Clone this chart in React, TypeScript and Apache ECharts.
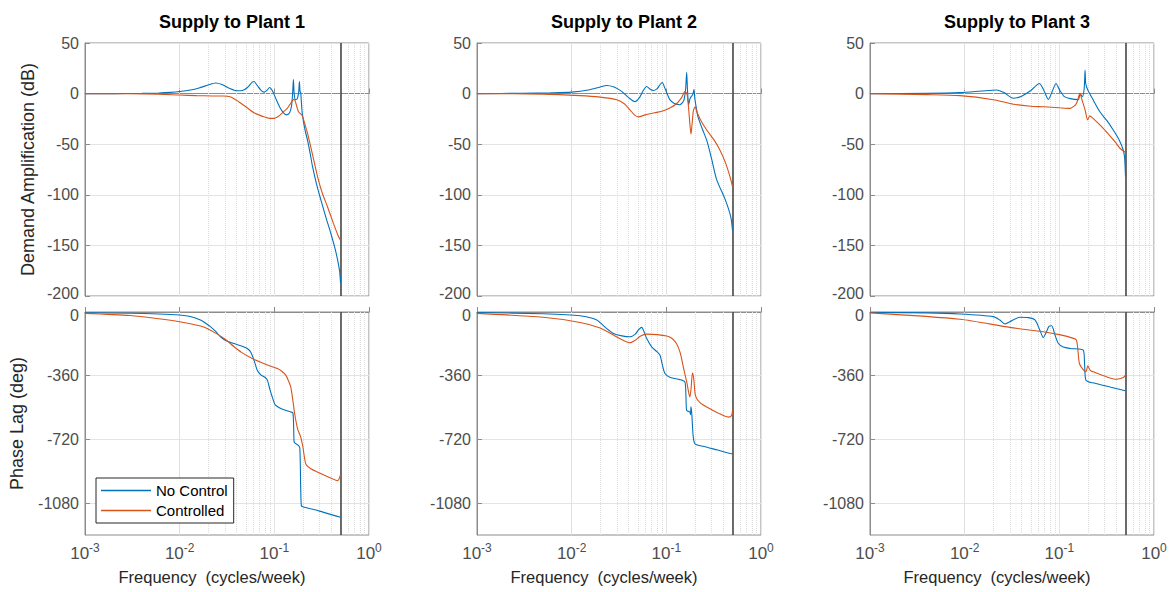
import React, { useEffect, useRef } from "react";
import * as echarts from "echarts";

// ---------- Data (frequency in cycles/week, magnitude in dB, phase in deg) ----------
// Plant 1 magnitude
const P1_MAG_NC_F = [0.001, 0.002, 0.004, 0.006, 0.008, 0.01, 0.013, 0.016, 0.02, 0.024, 0.028, 0.034, 0.04, 0.046, 0.052, 0.058, 0.061, 0.066, 0.072, 0.078, 0.084, 0.089, 0.095, 0.105, 0.115, 0.125, 0.135, 0.145, 0.152, 0.156, 0.159, 0.162, 0.167, 0.175, 0.181, 0.184, 0.187, 0.19, 0.193, 0.198, 0.21, 0.224, 0.24, 0.253, 0.28, 0.31, 0.35, 0.395, 0.44, 0.47, 0.49, 0.5];
const P1_MAG_NC = [0, 0, 0.2, 0.6, 1.2, 2, 3.5, 5.5, 8.5, 10.5, 9, 5, 2.8, 3, 6, 11, 12, 8, 3.5, 1.5, 3.5, 6, 3, -6, -14, -19, -21, -19, -12, 0, 14, 0, -6, -5, 2, 12, 2, 1, -8, -21, -35, -46, -60, -72, -90, -105, -122, -138, -154, -166, -176, -187];
const P1_MAG_C_F = [0.001, 0.003, 0.006, 0.01, 0.015, 0.022, 0.028, 0.032, 0.036, 0.042, 0.05, 0.061, 0.075, 0.09, 0.1, 0.112, 0.125, 0.137, 0.148, 0.157, 0.162, 0.167, 0.173, 0.18, 0.19, 0.198, 0.21, 0.224, 0.25, 0.286, 0.32, 0.365, 0.42, 0.47, 0.5];
const P1_MAG_C = [0, -0.1, -0.5, -1.4, -2, -2.3, -2.4, -2.6, -4, -8, -13, -19, -22.5, -24.5, -24.5, -22, -18, -14.6, -10, -6.5, -5.7, -8, -13, -18, -20, -22, -30, -39, -58, -82, -98, -112, -128, -140, -145];
// Plant 1 phase
const P1_PH_NC_F = [0.001, 0.003, 0.006, 0.01, 0.013, 0.0166, 0.019, 0.0211, 0.024, 0.027, 0.031, 0.0373, 0.045, 0.0518, 0.056, 0.061, 0.066, 0.072, 0.08, 0.0844, 0.09, 0.095, 0.1, 0.103, 0.12, 0.149, 0.157, 0.16, 0.162, 0.17, 0.18, 0.186, 0.19, 0.193, 0.2, 0.3, 0.4, 0.5];
const P1_PH_NC = [-4, -7, -11, -17, -25, -45, -65, -83, -110, -140, -163, -178, -192, -206, -225, -272, -329, -355, -370, -385, -440, -480, -515, -527, -548, -565, -570, -650, -735, -745, -754, -770, -1000, -1094, -1100, -1125, -1145, -1160];
const P1_PH_C_F = [0.001, 0.003, 0.006, 0.01, 0.0166, 0.0195, 0.025, 0.0305, 0.0373, 0.045, 0.0585, 0.075, 0.09, 0.108, 0.12, 0.132, 0.14, 0.149, 0.157, 0.164, 0.176, 0.19, 0.2, 0.215, 0.243, 0.3, 0.4, 0.466, 0.5];
const P1_PH_C = [-8, -20, -38, -55, -79, -93, -125, -155, -195, -228, -263, -288, -305, -319, -335, -357, -385, -423, -500, -575, -660, -707, -760, -858, -886, -910, -940, -953, -920];

// Plant 2 magnitude
const P2_MAG_NC_F = [0.001, 0.003, 0.006, 0.01, 0.015, 0.02, 0.0234, 0.028, 0.034, 0.04, 0.0466, 0.052, 0.057, 0.062, 0.067, 0.0728, 0.08, 0.086, 0.0906, 0.096, 0.103, 0.109, 0.12, 0.139, 0.148, 0.154, 0.16, 0.164, 0.167, 0.172, 0.178, 0.183, 0.19, 0.196, 0.2, 0.208, 0.216, 0.24, 0.267, 0.3, 0.34, 0.42, 0.48, 0.5];
const P2_MAG_NC = [0, 0.3, 0.8, 1.5, 3.5, 6.5, 8, 6.5, 2, -4, -8, -4, 3, 7, 4.5, 3, 5, 9, 11, 6, -1, -6, -9.5, -11, -9, -6, 5, 21, 5, -11, -5, -3, -1, 4, -5, -15, -23, -35, -46, -64, -85, -105, -122, -135];
const P2_MAG_C_F = [0.001, 0.005, 0.0123, 0.02, 0.0299, 0.036, 0.0413, 0.046, 0.0506, 0.06, 0.075, 0.093, 0.11, 0.128, 0.145, 0.157, 0.165, 0.172, 0.178, 0.182, 0.187, 0.193, 0.201, 0.21, 0.23, 0.267, 0.32, 0.369, 0.42, 0.47, 0.5];
const P2_MAG_C = [0, -0.5, -2, -3.5, -6, -10, -16, -21, -23, -21, -19, -17, -14, -10, -4, 2, 0, -15, -32, -40, -30, -17, -13, -18, -26, -36, -46, -56, -68, -82, -92];
// Plant 2 phase
const P2_PH_NC_F = [0.001, 0.005, 0.0123, 0.0184, 0.023, 0.0276, 0.034, 0.0413, 0.047, 0.051, 0.055, 0.058, 0.0619, 0.07, 0.08, 0.0858, 0.09, 0.0968, 0.11, 0.139, 0.157, 0.161, 0.164, 0.177, 0.18, 0.182, 0.186, 0.192, 0.201, 0.25, 0.35, 0.49, 0.5];
const P2_PH_NC = [-3, -10, -21, -45, -90, -121, -135, -140, -125, -100, -87, -110, -149, -197, -225, -244, -290, -348, -370, -382, -395, -470, -556, -565, -580, -535, -580, -700, -745, -760, -780, -801, -800];
const P2_PH_C_F = [0.001, 0.005, 0.0123, 0.02, 0.0276, 0.035, 0.0413, 0.047, 0.053, 0.0619, 0.08, 0.101, 0.115, 0.128, 0.14, 0.151, 0.165, 0.177, 0.182, 0.189, 0.195, 0.201, 0.209, 0.23, 0.267, 0.35, 0.452, 0.49, 0.5];
const P2_PH_C = [-8, -30, -59, -90, -130, -160, -174, -160, -137, -125, -128, -136, -150, -178, -230, -310, -400, -480, -440, -344, -380, -460, -489, -515, -537, -570, -594, -585, -556];

// Plant 3 magnitude
const P3_MAG_NC_F = [0.001, 0.004, 0.0089, 0.015, 0.0218, 0.026, 0.0327, 0.04, 0.05, 0.0615, 0.068, 0.0766, 0.084, 0.0923, 0.1, 0.113, 0.13, 0.159, 0.165, 0.175, 0.183, 0.187, 0.19, 0.2, 0.23, 0.268, 0.32, 0.371, 0.43, 0.474, 0.49, 0.5];
const P3_MAG_NC = [0, 0.3, 1, 2.5, 3.6, 1, -4.6, -2.5, 3, 10, 4, -5.7, 2, 10, 4, -3, -5, -6, 0, -3, 5, 23, 10, 3.6, -7, -18, -27, -36, -46, -56, -64, -82];
const P3_MAG_C_F = [0.001, 0.004, 0.0089, 0.0201, 0.0327, 0.05, 0.0678, 0.1, 0.13, 0.145, 0.152, 0.16, 0.165, 0.172, 0.187, 0.199, 0.21, 0.23, 0.268, 0.33, 0.39, 0.437, 0.5];
const P3_MAG_C = [0, -1, -2, -6, -10.5, -12.5, -13, -14, -14.6, -12, -9.6, -3, 0.3, -5, -16, -26, -22, -25, -31, -40, -48, -54, -58];
// Plant 3 phase
const P3_PH_NC_F = [0.001, 0.004, 0.0089, 0.0201, 0.0235, 0.0267, 0.03, 0.0384, 0.047, 0.0553, 0.062, 0.0678, 0.072, 0.078, 0.083, 0.09, 0.0977, 0.11, 0.13, 0.179, 0.185, 0.191, 0.25, 0.35, 0.474, 0.5];
const P3_PH_NC = [-2, -5, -11, -26, -45, -68, -55, -30, -32, -45, -100, -144, -120, -80, -78, -130, -178, -198, -206, -215, -300, -385, -405, -425, -442, -445];
const P3_PH_C_F = [0.001, 0.0089, 0.0301, 0.0678, 0.1, 0.141, 0.152, 0.158, 0.163, 0.175, 0.191, 0.2, 0.212, 0.228, 0.3, 0.403, 0.474, 0.5];
const P3_PH_C = [-5, -41, -87, -112, -128, -149, -160, -230, -291, -320, -338, -304, -330, -338, -362, -380, -370, -357];

const TITLES = ["Supply to Plant 1", "Supply to Plant 2", "Supply to Plant 3"];
const SERIES_NAMES = ["No Control", "Controlled"];
const MAG_RANGE = [-200, 50];
const MAG_TICKS = [-200, -150, -100, -50, 0, 50];
const PH_RANGE = [-1260, 0];
const PH_TICKS = [-1080, -720, -360, 0];
const NYQUIST = 0.5;

const CURVES = [
  { mag: [[P1_MAG_NC_F, P1_MAG_NC], [P1_MAG_C_F, P1_MAG_C]], ph: [[P1_PH_NC_F, P1_PH_NC], [P1_PH_C_F, P1_PH_C]] },
  { mag: [[P2_MAG_NC_F, P2_MAG_NC], [P2_MAG_C_F, P2_MAG_C]], ph: [[P2_PH_NC_F, P2_PH_NC], [P2_PH_C_F, P2_PH_C]] },
  { mag: [[P3_MAG_NC_F, P3_MAG_NC], [P3_MAG_C_F, P3_MAG_C]], ph: [[P3_PH_NC_F, P3_PH_NC], [P3_PH_C_F, P3_PH_C]] },
];

const COLORS = ["#0072BD", "#D95319"];
const FONT = "'Liberation Sans', Arial, Helvetica, sans-serif";
const TICK_COLOR = "#4d4d4d";

export default function App() {
  const ref = useRef<HTMLDivElement>(null);
  useEffect(() => {
    if (!ref.current) return;
    const chart = echarts.init(ref.current, undefined, { renderer: "svg" });

    const lefts = [85, 477, 870];
    const width = 284;
    const tops = [43, 312];
    const heights = [253, 223];

    const minor: number[] = [];
    for (let d = -3; d < 0; d++) for (let m = 2; m <= 9; m++) minor.push(m * Math.pow(10, d));

    const grids: any[] = [];
    const xAxes: any[] = [];
    const yAxes: any[] = [];
    const series: any[] = [];

    for (let row = 0; row < 2; row++) {
      for (let col = 0; col < 3; col++) {
        const gi = row * 3 + col;
        grids.push({
          left: lefts[col],
          top: tops[row],
          width,
          height: heights[row],
          show: true,
          borderColor: "#8c8c8c",
          borderWidth: 1,
          backgroundColor: "#fff",
          containLabel: false,
        });
        const bottom = row === 1;
        xAxes.push({
          type: "log",
          logBase: 10,
          gridIndex: gi,
          min: 0.001,
          max: 1,
          axisLine: { show: true, lineStyle: { color: "#8c8c8c" } },
          axisTick: { show: true, inside: true, length: 5, lineStyle: { color: "#8c8c8c" } },
          splitLine: { show: true, lineStyle: { color: "#e4e4e4", width: 1 } },
          axisLabel: bottom
            ? {
                show: true,
                fontFamily: FONT,
                fontSize: 17,
                color: TICK_COLOR,
                margin: 7,
                formatter: (v: number) => "10{sup|" + Math.round(Math.log10(v)) + "}",
                rich: { sup: { fontFamily: FONT, fontSize: 12, color: TICK_COLOR, padding: [0, 0, 10, 0] } },
              }
            : { show: false },
          name: bottom ? "Frequency  (cycles/week)" : "",
          nameLocation: "middle",
          nameGap: 33,
          nameTextStyle: { fontFamily: FONT, fontSize: 16.5, color: "#262626", padding: [0, 30, 0, 0] },
        });
        const isMag = row === 0;
        const ticks = isMag ? MAG_TICKS : PH_TICKS;
        yAxes.push({
          type: "value",
          gridIndex: gi,
          min: isMag ? MAG_RANGE[0] : PH_RANGE[0],
          max: isMag ? MAG_RANGE[1] : PH_RANGE[1],
          axisLine: { show: true, lineStyle: { color: "#8c8c8c" } },
          axisTick: { show: true, inside: true, length: 5, lineStyle: { color: "#8c8c8c" }, customValues: ticks },
          splitLine: { show: true, lineStyle: { color: "#e4e4e4", width: 1 } },
          axisLabel: {
            fontFamily: FONT,
            fontSize: 16,
            color: TICK_COLOR,
            margin: 6,
            customValues: ticks,
            formatter: (v: number) => {
              if (isMag && v === MAG_RANGE[0]) return "{lo|" + v + "}";
              if (!isMag && v === PH_RANGE[1]) return "{hi|" + v + "}";
              return String(v);
            },
            rich: {
              lo: { fontFamily: FONT, fontSize: 16, color: TICK_COLOR, padding: [0, 0, 6, 0] },
              hi: { fontFamily: FONT, fontSize: 16, color: TICK_COLOR, padding: [6, 0, 0, 0] },
            },
          },
          name: col === 0 ? (isMag ? "Demand Amplification (dB)" : "Phase Lag (deg)") : "",
          nameLocation: "middle",
          nameRotate: 90,
          nameGap: isMag ? 48 : 59,
          nameTextStyle: { fontFamily: FONT, fontSize: 18, color: "#262626" },
        });

        const curves = isMag ? CURVES[col].mag : CURVES[col].ph;
        curves.forEach(([fs, vs], si) => {
          const s: any = {
            name: SERIES_NAMES[si],
            type: "line",
            xAxisIndex: gi,
            yAxisIndex: gi,
            data: fs.map((f: number, k: number) => [f, vs[k]]),
            showSymbol: false,
            symbol: "none",
            smooth: 0.25,
            lineStyle: { color: COLORS[si], width: 1.1 },
            itemStyle: { color: COLORS[si] },
            z: 3,
          };
          if (si === 0) {
            s.markLine = {
              silent: true,
              symbol: ["none", "none"],
              label: { show: false },
              animation: false,
              z: 1,
              data: [
                ...minor.map((v) => ({ xAxis: v, lineStyle: { type: "dotted", color: "#dcdcdc", width: 1 } })),
                { xAxis: NYQUIST, lineStyle: { type: "solid", color: "#3c3c3c", width: 1.5 } },
              ],
            };
          }
          series.push(s);
        });
      }
    }

    chart.setOption({
      animation: false,
      backgroundColor: "#fff",
      textStyle: { fontFamily: FONT },
      title: TITLES.map((t, i) => ({
        text: t,
        left: lefts[i] + width / 2,
        top: 8,
        textAlign: "center",
        textStyle: { fontFamily: FONT, fontSize: 18, fontWeight: "bold", color: "#000" },
      })),
      legend: {
        data: SERIES_NAMES,
        orient: "vertical",
        left: 96,
        top: 478,
        icon: "rect",
        itemWidth: 50,
        itemHeight: 1.3,
        itemGap: 5,
        padding: [5, 6, 5, 5],
        borderColor: "#262626",
        borderWidth: 1,
        backgroundColor: "#fff",
        textStyle: { fontFamily: FONT, fontSize: 15, color: "#000", padding: [0, 0, 0, 0] },
        selectedMode: false,
      },
      grid: grids,
      xAxis: xAxes,
      yAxis: yAxes,
      series,
    });
    return () => chart.dispose();
  }, []);

  return (
    <div
      ref={ref}
      style={{ position: "absolute", left: 0, top: 0, width: 1175, height: 592 }}
    />
  );
}
